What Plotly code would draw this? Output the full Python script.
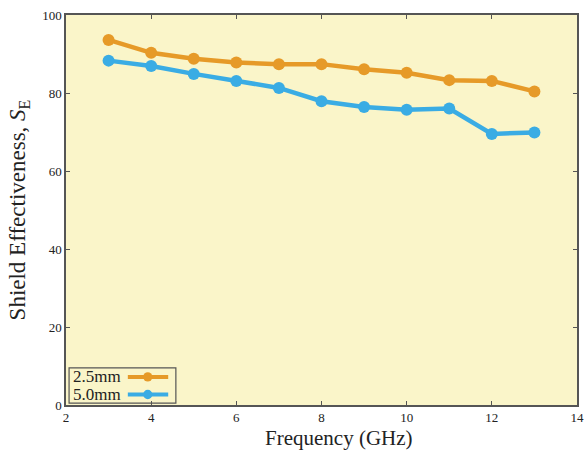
import plotly.graph_objects as go

freq = [3, 4, 5, 6, 7, 8, 9, 10, 11, 12, 13]
se_25 = [93.6, 90.3, 88.8, 87.8, 87.4, 87.4, 86.1, 85.2, 83.3, 83.1, 80.4]
se_50 = [88.3, 86.9, 84.9, 83.1, 81.3, 77.9, 76.4, 75.7, 76.0, 69.5, 69.9]
names = ["2.5mm", "5.0mm"]
colors = ["#E69A28", "#3AACE4"]

fig = go.Figure()
for ys, nm, c in zip([se_25, se_50], names, colors):
    fig.add_trace(go.Scatter(x=freq, y=ys, mode="lines+markers", name=nm,
                             line=dict(color=c, width=4.5),
                             marker=dict(color=c, size=12), showlegend=False))

font = "Liberation Serif, Times New Roman, serif"
axis_common = dict(showline=True, linecolor="#555555", linewidth=1.5, mirror="ticks",
                   ticks="inside", ticklen=4, tickcolor="#555555", showgrid=False,
                   zeroline=False, automargin=False,
                   tickfont=dict(family=font, size=13, color="#222"))
fig.update_xaxes(range=[2, 14], tickvals=[2, 4, 6, 8, 10, 12, 14], **axis_common)
fig.update_yaxes(range=[0, 100], tickvals=[0, 20, 40, 60, 80, 100],
                 title=dict(text="Shield Effectiveness, <i>S</i><sub>E</sub>",
                            font=dict(family=font, size=23, color="#222"), standoff=10),
                 **axis_common)

# manual legend (text left, symbol right)
shapes = [dict(type="rect", xref="paper", yref="paper", x0=0.006, x1=0.215, y0=0.005, y1=0.095,
               line=dict(color="#555555", width=1.2), fillcolor="rgba(0,0,0,0)")]
annots = [dict(x=0.534, y=-0.085, xref="paper", yref="paper", text="Frequency (GHz)",
               showarrow=False, xanchor="center", yanchor="middle",
               font=dict(family=font, size=21, color="#222"))]
for i, (nm, c) in enumerate(zip(names, colors)):
    yy = 0.072 - i * 0.045
    annots.append(dict(x=0.010, y=yy, xref="paper", yref="paper", text=nm, showarrow=False,
                       xanchor="left", yanchor="middle", font=dict(family=font, size=17, color="#222")))
    shapes.append(dict(type="line", xref="paper", yref="paper", x0=0.121, x1=0.200, y0=yy, y1=yy,
                       line=dict(color=c, width=4)))
    shapes.append(dict(type="circle", xref="paper", yref="paper", x0=0.160 - 0.009, x1=0.160 + 0.009,
                       y0=yy - 0.012, y1=yy + 0.012, line=dict(color=c, width=0), fillcolor=c))

fig.update_layout(width=584, height=456, margin=dict(l=66, r=7, t=15, b=51),
                  plot_bgcolor="#FAF5C9", paper_bgcolor="white",
                  shapes=shapes, annotations=annots)
fig.write_html("out.html")
